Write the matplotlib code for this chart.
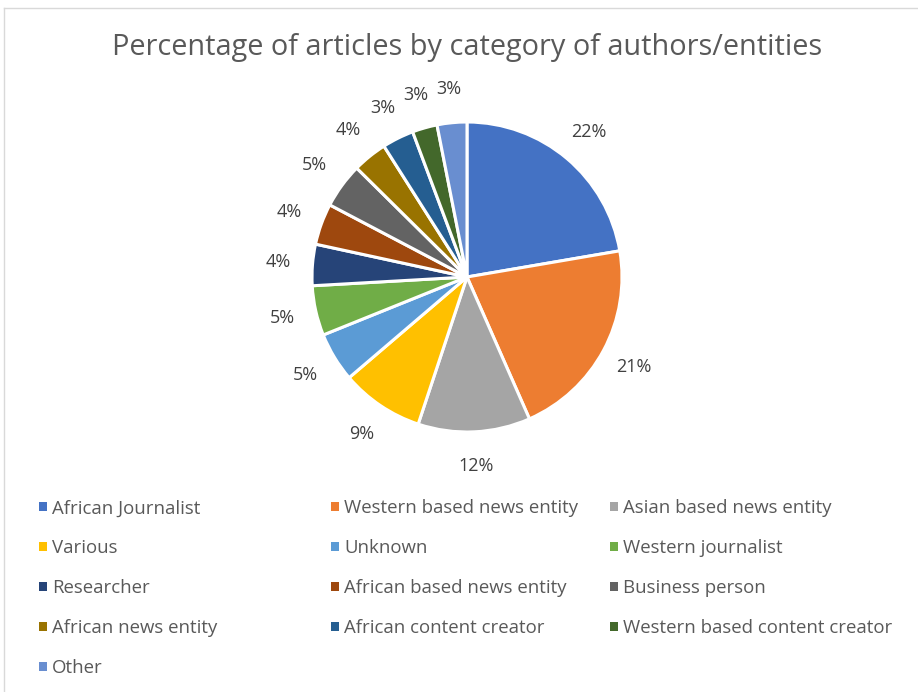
import matplotlib.pyplot as plt
from matplotlib.lines import Line2D

# category labels and shares (percent)
categories = [
    "African Journalist", "Western based news entity", "Asian based news entity",
    "Various", "Unknown", "Western journalist",
    "Researcher", "African based news entity", "Business person",
    "African news entity", "African content creator", "Western based content creator",
    "Other",
]
shares = [22.3, 21.1, 11.7, 8.65, 5.15, 5.2, 4.3, 4.3, 4.7, 3.6, 3.3, 2.6, 3.1]

colors = ["#4472C4", "#ED7D31", "#A5A5A5", "#FFC000", "#5B9BD5", "#70AD47",
          "#264478", "#9E480E", "#636363", "#997300", "#255E91", "#43682B",
          "#698ED0"]

FONT = "Open Sans"
W, H = 918, 692
fig = plt.figure(figsize=(W / 100, H / 100), dpi=100)

# pie axes: centre (467, 277) px from top-left, radius 155 px
R = 155
k = 1.45
cx, cy = 467, 277
side = 2 * R * k
ax = fig.add_axes([(cx - side / 2) / W, (H - cy - side / 2) / H, side / W, side / H])

wedges, _, autotexts = ax.pie(
    shares, colors=colors, startangle=90, counterclock=False,
    autopct="%.0f%%", pctdistance=1.22,
    wedgeprops=dict(edgecolor="white", linewidth=2.2),
    textprops=dict(color="#404040", fontsize=13, family=FONT),
)
ax.set_xlim(-k, k)
ax.set_ylim(-k, k)
ax.set_aspect("equal")
ax.axis("off")

fig.text(467 / W, 1 - 48 / H, "Percentage of articles by category of authors/entities",
         ha="center", va="center", fontsize=20.8, color="#595959", family=FONT)

# legend laid out row by row in three columns
col_x = [30, 322, 601]
for c in range(3):
    idx = list(range(c, len(categories), 3))
    leg = fig.legend(
        [wedges[i] for i in idx], [categories[i] for i in idx],
        loc="upper left", bbox_to_anchor=(col_x[c] / W, 1 - 490 / H),
        frameon=False, ncol=1, handlelength=0.4, handleheight=0.4,
        handletextpad=0.3, labelspacing=1.18, borderpad=0,
        prop=dict(family=FONT, size=13.4),
    )
    for t in leg.get_texts():
        t.set_color("#595959")
    for h in leg.legend_handles:
        h.set_edgecolor("none")

# thin chart-area border (top and left)
fig.add_artist(Line2D([3.5 / W, 3.5 / W], [0, 1 - 7.5 / H], transform=fig.transFigure,
                      color="#D9D9D9", linewidth=1))
fig.add_artist(Line2D([3.5 / W, 1], [1 - 7.5 / H, 1 - 7.5 / H], transform=fig.transFigure,
                      color="#D9D9D9", linewidth=1))

fig.savefig("out.png", dpi=100, facecolor="white")
